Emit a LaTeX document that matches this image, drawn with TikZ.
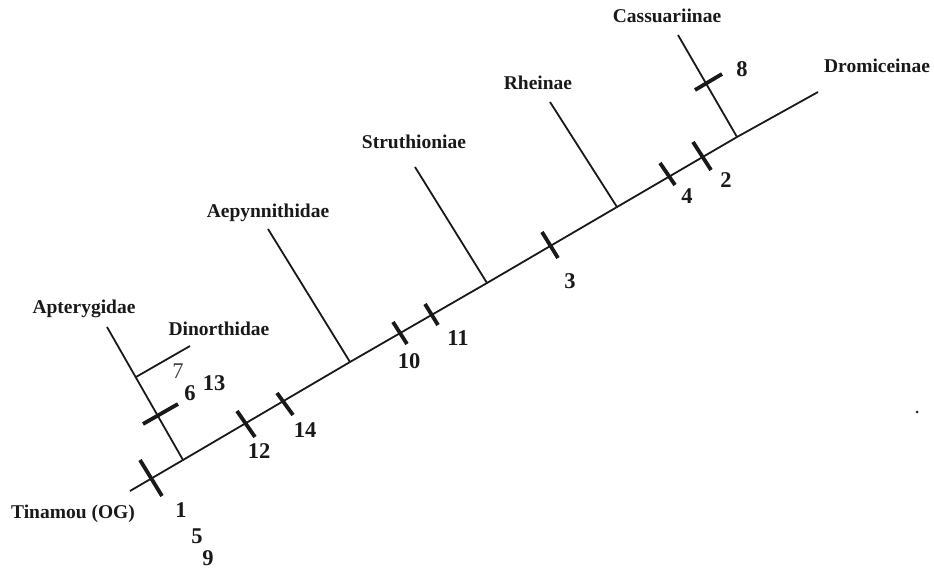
\documentclass[tikz,border=0pt]{standalone}
\usepackage{fontspec}
\setmainfont{Liberation Serif}
\begin{document}
\begin{tikzpicture}[x=1pt,y=-1pt,
  branch/.style={line width=1.8pt,black!90},
  tick/.style={line width=3.8pt,black!90},
  taxon/.style={anchor=base,inner sep=0pt,font=\fontsize{19.5}{22}\selectfont\bfseries,text=black!90},
  num/.style={anchor=base,inner sep=0pt,font=\fontsize{22.5}{26}\selectfont\bfseries,text=black!90}]
\useasboundingbox (0,0) rectangle (934,569);
% backbone coordinates
\coordinate (root) at (130,491);
\coordinate (jA) at (183,460);
\coordinate (jAe) at (350,362);
\coordinate (jS) at (487,283);
\coordinate (jR) at (617,207);
\coordinate (jC) at (737,137);
\coordinate (tD) at (818,92);
% tips
\coordinate (tA) at (107,327);
\coordinate (jDi) at (136,377);
\coordinate (tDi) at (190,346);
\coordinate (tAe) at (268,229);
\coordinate (tS) at (415,167);
\coordinate (tR) at (550,102);
\coordinate (tC) at (678,35);
% branches
\draw[branch] (root) -- (jA) -- (jAe) -- (jS) -- (jR) -- (jC) -- (tD);
\draw[branch] (jA) -- (tA);
\draw[branch] (jDi) -- (tDi);
\draw[branch] (jAe) -- (tAe);
\draw[branch] (jS) -- (tS);
\draw[branch] (jR) -- (tR);
\draw[branch] (jC) -- (tC);
% ticks
\coordinate (k1a) at (140,460); \coordinate (k1b) at (162,496);
\coordinate (k6a) at (143,424); \coordinate (k6b) at (178,404);
\coordinate (k12a) at (237,411); \coordinate (k12b) at (255,437);
\coordinate (k14a) at (277,393); \coordinate (k14b) at (293,415);
\coordinate (k10a) at (393,322); \coordinate (k10b) at (407,344);
\coordinate (k11a) at (425,304); \coordinate (k11b) at (438,325);
\coordinate (k3a) at (542,232); \coordinate (k3b) at (558,258);
\coordinate (k4a) at (660,163); \coordinate (k4b) at (675,185);
\coordinate (k2a) at (693,142); \coordinate (k2b) at (711,170);
\coordinate (k8a) at (695,90); \coordinate (k8b) at (722,74);
\foreach \k in {1,6,12,14,10,11,3,4,2,8} \draw[tick] (k\k a) -- (k\k b);
% taxon labels
\node[taxon] (lA) at (84,313) {Apterygidae};
\node[taxon] (lDi) at (219,335) {Dinorthidae};
\node[taxon] (lT) at (73,518) {Tinamou (OG)};
\node[taxon] (lAe) at (268,218) {Aepynnithidae};
\node[taxon] (lS) at (414,149) {Struthioniae};
\node[taxon] (lR) at (538,90) {Rheinae};
\node[taxon] (lC) at (667,23) {Cassuariinae};
\node[taxon] (lD) at (877,73) {Dromiceinae};
% numbers
\node[num] (n1) at (181,517) {1};
\node[num] (n5) at (197,543) {5};
\node[num] (n9) at (208,565) {9};
\node[num] (n6) at (190,400) {6};
\node[num] (n13) at (214,390) {13};
\node[num,font=\fontsize{22.5}{26}\selectfont,text=black!75] (n7) at (178,378) {7};
\node[num] (n12) at (259,458) {12};
\node[num] (n14) at (305,437) {14};
\node[num] (n10) at (409,368) {10};
\node[num] (n11) at (458,345) {11};
\node[num] (n3) at (570,288) {3};
\node[num] (n4) at (687,204) {4};
\node[num] (n2) at (726,188) {2};
\node[num] (n8) at (742,77) {8};
% stray dot
\fill[black!85] (917,412) circle (1.5pt);
\end{tikzpicture}
\end{document}
